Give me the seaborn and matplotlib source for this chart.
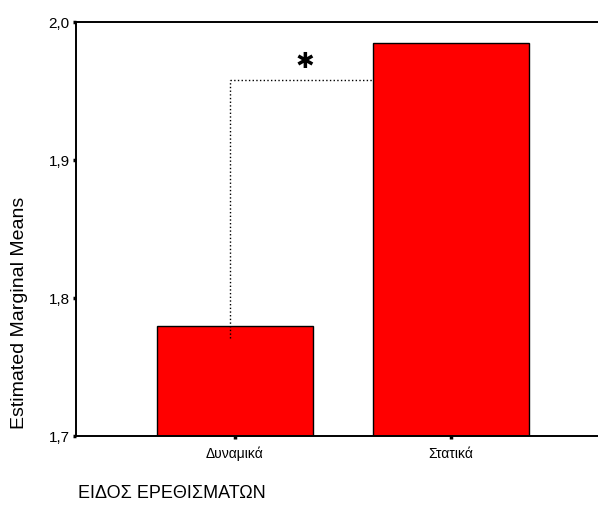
import numpy as np
import pandas as pd
import matplotlib
matplotlib.use('Agg')
import matplotlib.pyplot as plt
import seaborn as sns
from matplotlib.ticker import FuncFormatter

# Estimated marginal means per stimulus type
categories = ['Δυναμικά', 'Στατικά']
means = [1.780, 1.985]
y_ticks = [1.7, 1.8, 1.9, 2.0]

# significance bracket (value levels)
sig_level = 1.958
sig_bottom = 1.771
sig_star_y = 1.971

sns.set_style('white')
plt.rcParams['font.family'] = ['Liberation Sans', 'DejaVu Sans']
plt.rcParams['text.color'] = 'black'
plt.rcParams['xtick.color'] = 'black'
plt.rcParams['ytick.color'] = 'black'

fig = plt.figure(figsize=(5.98, 5.12), dpi=100)
ax = fig.add_axes([0.127, 0.148, 0.873, 0.809])

df = pd.DataFrame({'type': categories, 'mean': means})
sns.barplot(data=df, x='type', y='mean', color='#ff0000', saturation=1,
            width=0.72, edgecolor='black', linewidth=1, ax=ax)

ax.set_ylim(1.7, 2.0)
ax.set_xlim(-0.736, 1.68)
ax.set_yticks(y_ticks)
ax.yaxis.set_major_formatter(FuncFormatter(lambda v, p: f'{v:.1f}'.replace('.', ',')))
ax.tick_params(axis='y', length=2.5, width=2.5, labelsize=11, pad=2, direction='out', left=True)
ax.tick_params(axis='x', length=2.5, width=2.5, labelsize=10, pad=5, direction='out', bottom=True)

for side in ['left', 'bottom', 'top']:
    ax.spines[side].set_visible(True)
    ax.spines[side].set_linewidth(1.4)
    ax.spines[side].set_color('black')
ax.spines['right'].set_visible(False)

ax.set_xlabel('')
ax.set_ylabel('')

# dotted bracket between the two means
x0 = -0.023
x1 = 1 - 0.36
ax.plot([x0, x0], [sig_bottom, sig_level], color='black', linestyle=':', linewidth=1)
ax.plot([x0, x1], [sig_level, sig_level], color='black', linestyle=':', linewidth=1)
ax.text(0.325, sig_star_y, '\u2731', ha='center', va='center', fontsize=16,
        family='DejaVu Sans')

fig.text(0.032, 0.388, 'Estimated Marginal Means', rotation=90, ha='center', va='center', fontsize=14)
fig.text(0.13, 0.037, 'ΕΙΔΟΣ ΕΡΕΘΙΣΜΑΤΩΝ', ha='left', va='center', fontsize=13)

fig.savefig('out.png', dpi=100)
